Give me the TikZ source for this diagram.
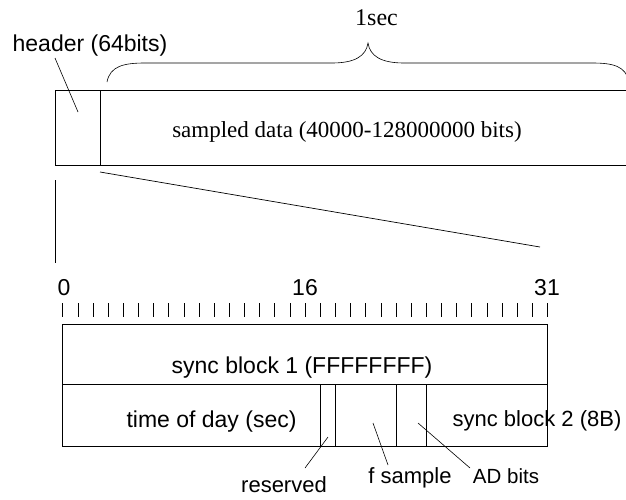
\documentclass[tikz,border=0pt]{standalone}
\usepackage{fontspec}
\setmainfont{Liberation Serif}
\setsansfont{Liberation Sans}
\begin{document}
\begin{tikzpicture}[x=1pt, y=-1pt, line width=0.9pt,
  serif/.style={inner sep=0pt, anchor=base, font=\fontsize{23}{27}\selectfont},
  sans/.style={inner sep=0pt, anchor=base, font=\sffamily\fontsize{23}{27}\selectfont},
  small/.style={inner sep=0pt, anchor=base, font=\sffamily\fontsize{22}{26}\selectfont}]
\useasboundingbox (0,0) rectangle (626,499);

% frame of one second
\draw (630,90) -- (55,90) -- (55,165) -- (630,165);
\draw (100,90) -- (100,165);
\node [serif] (data) at (347,137) {sampled data (40000-128000000 bits)};
\node [sans] (hdr) at (90,51) {header (64bits)};
\coordinate (hdrA) at (55,58);
\coordinate (hdrB) at (78,112);
\draw [line width=0.6pt] (hdrA) -- (hdrB);

% brace over the data
\draw [line width=0.6pt] (107,82) .. controls (110,66) and (124,63) .. (145,63) -- (332,63)
  .. controls (355,63) and (366,56) .. (368,43) .. controls (370,56) and (381,63) .. (404,63)
  -- (592,63) .. controls (613,63) and (626,66) .. (629,82);
\node [serif, font=\fontsize{24}{28}\selectfont] (sec) at (376.5,25) {1sec};

% zoom lines
\draw [line width=0.7pt] (100,172) -- (540,247);
\draw [line width=0.7pt] (55,180) -- (55,263);

% bit ruler
\node [sans] (b0) at (64,295) {0};
\node [sans] (b16) at (305,295) {16};
\node [sans] (b31) at (547,295) {31};
\foreach \i in {0,...,32}
  \draw [line width=0.7pt] (62.7+15.15*\i,303) -- ++(0,14);

% header words
\draw (62.7,324) rectangle (547.5,446);
\draw (62.7,384) -- (547.5,384);
\foreach \x in {320,335.5,396,426.5}
  \draw (\x,384) -- (\x,446);
\node [sans] (sync1) at (302,373) {sync block 1 (FFFFFFFF)};
\node [sans] (tod) at (211.5,427) {time of day (sec)};
\node [small] (sync2) at (537,426) {sync block 2 (8B)};

% field labels
\node [small] (rsv) at (284,492) {reserved};
\node [small] (fs) at (410,483) {f sample};
\node [small, font=\sffamily\fontsize{20.5}{24}\selectfont] (ad) at (506,483) {AD bits};
\coordinate (rsvA) at (328,437);
\coordinate (rsvB) at (305,468);
\coordinate (fsA) at (373,423);
\coordinate (fsB) at (388,465);
\coordinate (adA) at (418,423);
\coordinate (adB) at (470,468);
\draw [line width=0.6pt] (rsvA) -- (rsvB);
\draw [line width=0.6pt] (fsA) -- (fsB);
\draw [line width=0.6pt] (adA) -- (adB);
\end{tikzpicture}
\end{document}
